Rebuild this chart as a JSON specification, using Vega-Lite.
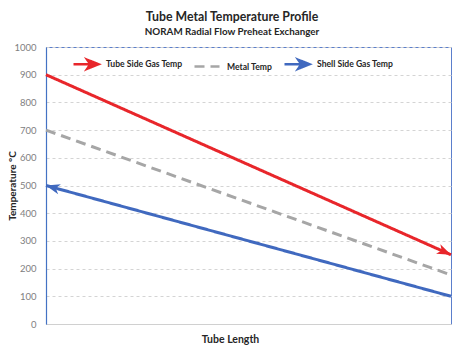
{
  "$schema": "https://vega.github.io/schema/vega-lite/v6.json",
  "width": 405,
  "height": 277,
  "autosize": {"type": "none"},
  "padding": {"left": 46, "top": 47, "right": 5, "bottom": 29},
  "background": "white",
  "title": {
    "text": "Tube Metal Temperature Profile",
    "subtitle": "NORAM Radial Flow Preheat Exchanger",
    "anchor": "middle",
    "frame": "bounds",
    "font": "Lato",
    "fontSize": 12.3,
    "fontWeight": "bold",
    "color": "#262626",
    "subtitleFont": "Lato",
    "subtitleFontSize": 9.8,
    "subtitleFontWeight": "bold",
    "subtitleColor": "#262626",
    "subtitlePadding": 4,
    "offset": 5
  },
  "config": {
    "view": {"stroke": "#5b7fcc", "strokeWidth": 1},
    "font": "Lato"
  },
  "data": {
    "values": [
      {"series": "Tube Side Gas Temp", "x": 0, "temp": 900},
      {"series": "Tube Side Gas Temp", "x": 1, "temp": 250},
      {"series": "Metal Temp", "x": 0, "temp": 700},
      {"series": "Metal Temp", "x": 1, "temp": 177},
      {"series": "Shell Side Gas Temp", "x": 0, "temp": 500},
      {"series": "Shell Side Gas Temp", "x": 1, "temp": 100}
    ]
  },
  "encoding": {
    "x": {
      "field": "x",
      "type": "quantitative",
      "scale": {"domain": [0, 1], "nice": false, "zero": false},
      "axis": {
        "title": "Tube Length",
        "titleFont": "Lato",
        "titleFontSize": 10.5,
        "titleFontWeight": "bold",
        "titleColor": "#262626",
        "titleX": 184,
        "titleY": 10,
        "labels": false,
        "ticks": false,
        "grid": false,
        "domainColor": "#d0d0d0",
        "domainWidth": 1
      }
    },
    "y": {
      "field": "temp",
      "type": "quantitative",
      "scale": {"domain": [0, 1000], "nice": false},
      "axis": {
        "title": "Temperature °C",
        "titleFont": "Lato",
        "titleFontSize": 10,
        "titleFontWeight": "bold",
        "titleColor": "#262626",
        "titleX": -29,
        "values": [0, 100, 200, 300, 400, 500, 600, 700, 800, 900, 1000],
        "format": "d",
        "labelColor": "#808080",
        "labelFontSize": 9.5,
        "labelPadding": 10,
        "ticks": false,
        "grid": true,
        "gridColor": "#d4d4d4",
        "gridDash": [3, 3],
        "gridWidth": 1,
        "domainColor": "#4472c4",
        "domainWidth": 1.2
      }
    }
  },
  "layer": [
    {
      "mark": {"type": "line", "strokeWidth": 3, "strokeCap": "butt"},
      "encoding": {
        "color": {
          "field": "series",
          "type": "nominal",
          "sort": ["Tube Side Gas Temp", "Metal Temp", "Shell Side Gas Temp"],
          "scale": {
            "domain": ["Tube Side Gas Temp", "Metal Temp", "Shell Side Gas Temp"],
            "range": ["#e8262b", "#a6a6a6", "#4069bf"]
          },
          "legend": {
            "title": null,
            "orient": "none",
            "direction": "horizontal",
            "legendX": 26,
            "legendY": 3,
            "padding": 0,
            "symbolType": "M-1,0L0.3,0M1,0L0.1,-0.36L0.35,0L0.1,0.36Z",
            "symbolSize": 625,
            "symbolStrokeWidth": 2.5,
            "labelFont": "Lato",
            "labelFontSize": 8.6,
            "labelFontWeight": "bold",
            "labelColor": "#262626",
            "labelOffset": 6,
            "columnPadding": 6,
            "encode": {
              "symbols": {
                "update": {
                  "shape": [
                    {"test": "datum.value === 'Metal Temp'", "value": "stroke"},
                    {"value": "M-1,0L0.3,0M1,0L0.1,-0.36L0.35,0L0.1,0.36Z"}
                  ],
                  "fill": [
                    {"test": "datum.value === 'Metal Temp'", "value": "transparent"},
                    {"scale": "color", "field": "value"}
                  ]
                }
              }
            }
          }
        },
        "strokeDash": {
          "field": "series",
          "type": "nominal",
          "scale": {
            "domain": ["Tube Side Gas Temp", "Metal Temp", "Shell Side Gas Temp"],
            "range": [[1, 0], [10, 6], [1, 0]]
          },
          "legend": null
        }
      }
    },
    {
      "transform": [{"filter": "datum.series === 'Tube Side Gas Temp' && datum.x === 1"}],
      "mark": {
        "type": "point",
        "shape": "M0,0L-2,-0.75L-1.45,0L-2,0.75Z",
        "filled": true,
        "opacity": 1,
        "size": 196,
        "angle": 24,
        "color": "#e8262b"
      },
      "encoding": {}
    },
    {
      "transform": [{"filter": "datum.series === 'Shell Side Gas Temp' && datum.x === 0"}],
      "mark": {
        "type": "point",
        "shape": "M0,0L-2,-0.75L-1.45,0L-2,0.75Z",
        "filled": true,
        "opacity": 1,
        "size": 196,
        "angle": 195.3,
        "color": "#4069bf"
      },
      "encoding": {}
    }
  ]
}
